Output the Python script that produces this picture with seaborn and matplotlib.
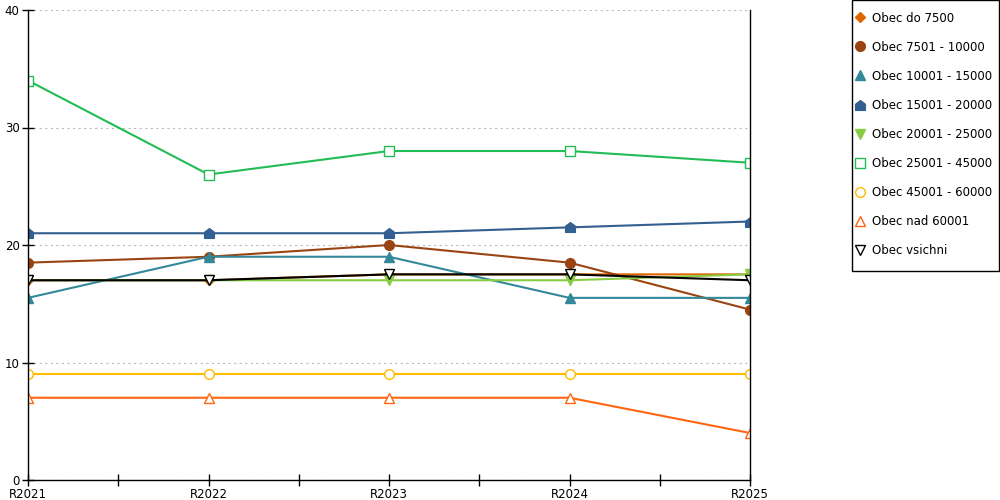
import matplotlib
matplotlib.use("Agg")
import matplotlib.pyplot as plt
from matplotlib.lines import Line2D
from matplotlib.path import Path
from matplotlib.patches import Rectangle
import seaborn as sns
import pandas as pd

# data
ROKY = ["R2021", "R2022", "R2023", "R2024", "R2025"]

obec_do_7500 = [17, 17, 17.5, 17.5, 17.5]
obec_7501_10000 = [18.5, 19, 20, 18.5, 14.5]
obec_10001_15000 = [15.5, 19, 19, 15.5, 15.5]
obec_15001_20000 = [21, 21, 21, 21.5, 22]
obec_20001_25000 = [17, 17, 17, 17, 17.5]
obec_25001_45000 = [34, 26, 28, 28, 27]
obec_45001_60000 = [9, 9, 9, 9, 9]
obec_nad_60001 = [7, 7, 7, 7, 4]
obec_vsichni = [17, 17, 17.5, 17.5, 17]

# house shaped marker (pentagon s rovnym dnem)
DOMEK = Path([(-1, -1), (1, -1), (1, 0.25), (0, 1), (-1, 0.25), (-1, -1)],
             [Path.MOVETO] + [Path.LINETO] * 4 + [Path.CLOSEPOLY])

# nazev, hodnoty, barva, marker, plny
SERIE = [
    ("Obec do 7500", obec_do_7500, "#dd6600", "D", True),
    ("Obec 7501 - 10000", obec_7501_10000, "#994411", "o", True),
    ("Obec 10001 - 15000", obec_10001_15000, "#338899", "^", True),
    ("Obec 15001 - 20000", obec_15001_20000, "#335f91", DOMEK, True),
    ("Obec 20001 - 25000", obec_20001_25000, "#88cc44", "v", True),
    ("Obec 25001 - 45000", obec_25001_45000, "#22bb55", "s", False),
    ("Obec 45001 - 60000", obec_45001_60000, "#ffbb00", "o", False),
    ("Obec nad 60001", obec_nad_60001, "#ff6611", "^", False),
    ("Obec vsichni", obec_vsichni, "#000000", "v", False),
]

sns.set_theme(style="white")
plt.rcParams["font.family"] = ["DejaVu Sans"]
plt.rcParams["text.color"] = "black"

fig = plt.figure(figsize=(10, 5), dpi=100)
ax = fig.add_axes([0.028, 0.04, 0.722, 0.94])

handles = []
for nazev, hodnoty, barva, marker, plny in SERIE:
    df = pd.DataFrame({"rok": ROKY, "hodnota": hodnoty})
    ms = 5.5 if marker == "D" else 7
    styl = dict(marker=marker, markersize=ms,
                markerfacecolor=barva if plny else "white",
                markeredgecolor=barva, markeredgewidth=1)
    sns.lineplot(data=df, x="rok", y="hodnota", ax=ax, color=barva,
                 linewidth=1.5, legend=False, **styl)
    handles.append(Line2D([], [], linestyle="none", label=nazev, **styl))

ax.set_xlim(0, len(ROKY) - 1)
ax.set_ylim(0, 40)
ax.set_yticks([0, 10, 20, 30, 40])
ax.set_xticks(range(len(ROKY)))
ax.set_xticklabels(ROKY)
ax.set_xticks([i + 0.5 for i in range(len(ROKY) - 1)], minor=True)
ax.set_xlabel("")
ax.set_ylabel("")

ax.yaxis.grid(True, color="#bbbbbb", linestyle=(0, (2, 3)), linewidth=0.8)
ax.xaxis.grid(False)

for strana in ["left", "bottom", "right"]:
    ax.spines[strana].set_visible(True)
    ax.spines[strana].set_color("black")
    ax.spines[strana].set_linewidth(1)
ax.spines["top"].set_visible(False)

ax.tick_params(axis="both", which="both", direction="inout", color="black",
               length=8, width=1, labelsize=8.5, labelcolor="black", pad=2)
ax.tick_params(axis="y", which="both", right=False, left=True)
ax.tick_params(axis="x", which="both", bottom=True, top=False)

# legenda bez ramecku, ramecek zvlast
fig.legend(handles=handles, loc="upper left", bbox_to_anchor=(0.8547, 0.977),
           fontsize=8.5, frameon=False, labelspacing=1.36, labelcolor="black",
           handlelength=0.9, handletextpad=0.55, borderpad=0, borderaxespad=0)
fig.add_artist(Rectangle((0.8515, 0.458), 0.147, 0.541, transform=fig.transFigure,
                         fill=False, edgecolor="black", linewidth=1))

fig.savefig("out.png", dpi=100)
